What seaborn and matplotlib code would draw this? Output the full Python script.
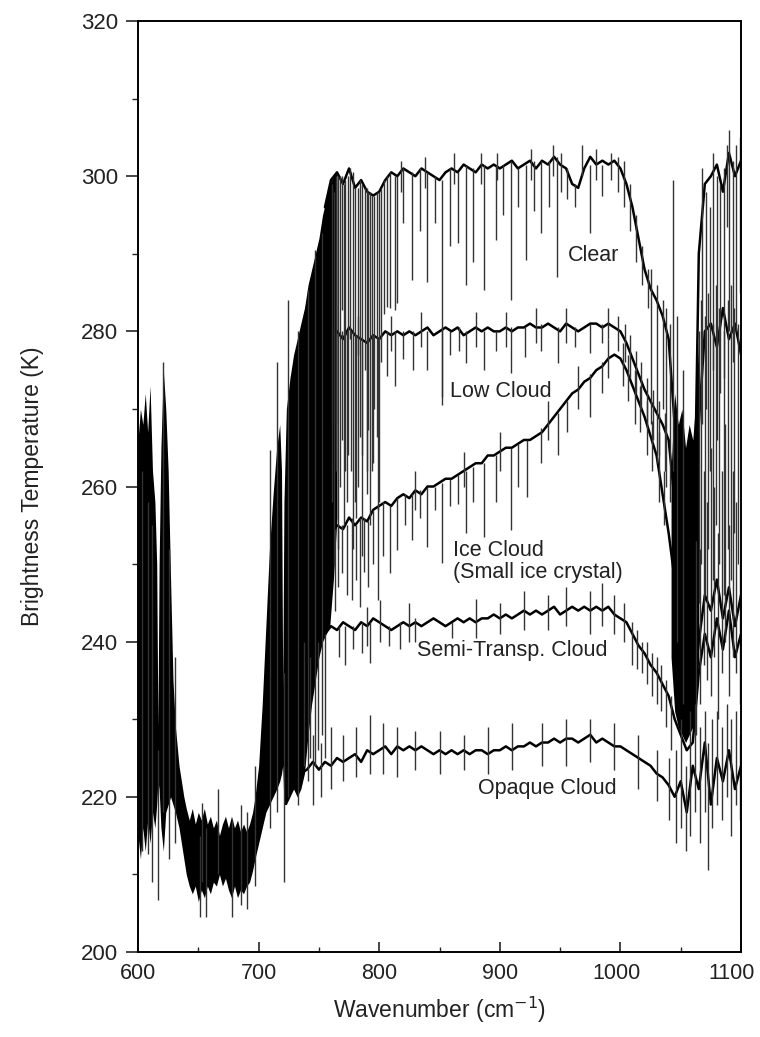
import matplotlib
matplotlib.use("Agg")
import matplotlib.pyplot as plt
from matplotlib.ticker import MultipleLocator
from matplotlib.transforms import ScaledTranslation
import seaborn as sns
import numpy as np
import pandas as pd

# wavenumber grid for the read-off baselines (cm-1)
wn = np.arange(755, 1101, 5)

clear = [296, 299.5, 300.5, 299, 301, 298.5, 299.5, 298, 297.5, 298,
         299.5, 300.5, 300, 301, 300.5, 300, 301, 300.5, 300, 299.5,
         300.5, 301, 300.5, 301.5, 301, 300.5, 301.5, 301, 301.5, 301,
         301.5, 302, 301, 301.5, 302, 301, 302, 301.5, 302.5, 301.5,
         301, 299, 298.5, 301, 302.5, 301.5, 302, 301.5, 302, 301,
         299, 296, 292, 288, 285.5, 284, 282, 279, 268, 255,
         246, 242, 290, 299, 300, 301.5, 298, 303, 300, 302]
low_cloud = [278, 279.5, 280, 279, 280.5, 279.5, 279, 278.5, 279.5, 279,
             280, 279.5, 280, 279.5, 280, 279.5, 280, 280.5, 279.5, 280,
             280.5, 280, 280.5, 279.5, 280, 280.5, 280, 280.5, 280, 280,
             280.5, 280, 280.5, 280.5, 281, 280.5, 280.5, 281, 280.5, 280,
             281, 280.5, 280, 280.5, 281, 281, 280.5, 281, 280.5, 280,
             278.5, 276.5, 274.5, 272.5, 271, 269.5, 268, 266, 258, 250,
             242, 240, 268, 280, 281, 278, 283, 279, 281, 277]
ice_cloud = [250, 254, 255, 254.5, 256, 255, 256, 255.5, 257, 257.5,
             258, 257.5, 258.5, 259, 258.5, 259.5, 259, 260, 260, 260.5,
             261, 261, 261.5, 262, 262.5, 263, 263, 264, 264, 264.5,
             265, 265, 265.5, 266, 266, 266.5, 267, 268, 269, 270,
             271, 272, 272.5, 273.5, 274, 275, 275.5, 276.5, 277, 276.5,
             275, 273, 271, 269, 266.5, 264, 259, 254, 248, 240,
             234, 233, 240, 246, 244, 248, 243, 247, 242, 246]
semi_transp = [241, 242, 241.5, 242.5, 242, 241.5, 242.5, 242, 243, 242.5,
               242, 241.5, 242, 242.5, 242, 242.5, 242, 242.5, 243, 242.5,
               242, 242.5, 243, 242.5, 243, 242.5, 243, 243, 243.5, 243,
               243.5, 243, 243.5, 244, 243.5, 244, 243.5, 244, 244.5, 243.5,
               244, 244.5, 244, 244.5, 244, 244.5, 244, 244.5, 243.5, 243,
               242.5, 241, 239.5, 238.5, 237, 236, 234.5, 233, 230, 228,
               226, 227, 236, 241, 238, 243, 239, 244, 238, 241]
opaque_wn = [735, 740, 745, 750]
opaque_head = [223, 223.5, 224.5, 223.5]
opaque = [224.5, 224, 225, 224.5, 225, 225.5, 224.5, 226, 225.5, 226,
          226.5, 225.5, 226.5, 226, 226.5, 226, 226.5, 226, 225.5, 226,
          225.5, 226, 225.5, 226, 225.5, 226, 226, 225.5, 226, 226,
          226.5, 226, 226.5, 226.5, 227, 226.5, 227, 227, 227.5, 227,
          227.5, 227.5, 227, 227.5, 228, 227, 227.5, 227, 226.5, 226.5,
          226, 225.5, 225, 224.5, 224, 223, 222.5, 221.5, 220, 222,
          218, 224, 221, 227, 219, 225, 222, 226, 221, 224]

# CO2 band region: envelope of the overlapping spectra
band_wn = [600, 602, 604, 606, 608, 610, 612, 614, 615.5, 616.5, 617.5, 619, 621, 623, 625,
           627, 629, 631, 634, 636, 638, 640, 642.5, 645, 647.5, 650, 652.5, 655, 657.5,
           660, 662.5, 665, 667.5, 670, 672.5, 675, 677.5, 680, 682.5, 685, 687.5, 690,
           692.5, 695, 697, 700, 703, 706, 709, 712, 715, 717.5, 719, 720, 721,
           723, 726, 729, 732, 735, 738, 741, 744, 747, 750, 753, 756, 759, 762, 765]
band_lo = [215, 212, 216, 213, 217, 214, 218, 216, 219, 222, 221, 216, 213, 218, 219,
           220, 219, 218, 216, 214, 212, 210, 208.5, 207.5, 208.5, 206.5, 208, 207, 208.5,
           207.5, 209, 208.5, 210, 208.5, 209.5, 208, 207, 208.5, 207, 208, 207.5, 208.5,
           209, 210.5, 212, 214, 216, 218, 219, 220, 221, 222, 223, 224, 219,
           219, 220, 221, 220, 221, 223, 228, 232, 235, 238, 240, 241, 242, 248, 256]
band_hi = [266, 270, 268, 272, 267, 273, 262, 258, 250, 229, 250, 265, 275, 270, 262,
           248, 235, 229, 224, 222, 220, 218.5, 217, 218.5, 216.5, 218, 217, 218.5, 216.5,
           217.5, 216, 217, 215, 216.5, 217.5, 216, 217.5, 216, 217, 215.5, 216.5, 215.5,
           216.5, 218, 220, 224, 232, 242, 252, 259, 265, 268, 262, 234, 258,
           270, 274, 277, 279, 281, 283, 286, 288, 290, 292, 295, 297, 299, 300, 300.5]

# O3 band trough
o3_wn = [1042, 1045, 1048, 1051, 1054, 1057, 1060, 1063, 1065]
o3_lo = [238, 231, 229, 228, 227, 228, 229, 232, 238]
o3_hi = [262, 272, 268, 270, 265, 268, 266, 272, 280]

# absorption lines / noise spikes: (wavenumber, low, high)
clear_lines = [(764, 268, 300), (769, 282.7, 300), (772, 262, 299.5), (776, 279, 301), (780, 258, 298.5),
               (784, 266.4, 299.5), (788, 275, 298.5), (791, 267.3, 298), (794, 262, 297.5), (798, 266.4, 298),
               (803.6, 282.3, 299.5), (806.5, 283.2, 300), (809, 283, 300.5), (813, 282.8, 300),
               (815, 283.6, 300), (820, 294, 301), (827, 286.6, 300.5), (834, 293, 301), (840, 286.4, 300.5),
               (846, 294, 300), (852, 271.5, 299.5), (859, 291, 301), (865, 291.4, 300.5), (871.6, 286, 301.5),
               (878, 289, 301), (886.5, 285.3, 301.5), (896.5, 291.8, 301.5), (903, 295, 301.5), (909, 284, 302),
               (915, 296, 301), (921.4, 289.2, 301.5), (928, 295.5, 302), (934, 292.7, 302), (941, 296, 302),
               (947.7, 287, 302.5), (956, 297, 301), (962, 296, 299), (975, 292.7, 301.5), (985, 297.5, 301.5),
               (818, 298, 302), (838, 298.5, 302.5), (862, 299, 303), (884, 299, 303), (898, 299.5, 303),
               (926, 299.5, 303.5), (944, 300, 304), (951, 298, 303), (968, 300, 304), (980, 299.5, 303.5),
               (992, 299.5, 303), (998, 298, 302.5), (1025, 268, 288), (1030, 263, 286), (1035, 270, 284),
               (1038, 260, 283), (1041, 258, 281), (1003, 296, 302), (1008, 293, 299), (1013, 289, 295),
               (1018, 286, 291), (1023, 283, 288),
               (761, 258, 299), (762.5, 250, 298), (766, 252, 300), (767.5, 260, 300), (770.5, 255, 299),
               (774.5, 264, 300), (778.5, 252, 300.5), (782.5, 260, 298.5), (786, 251, 299), (789.5, 262, 298.5),
               (792.5, 255, 298), (796, 270, 297.5), (799.5, 258, 298), (801.5, 276, 298.5)]
low_lines = [(764, 262, 280), (769, 266, 280), (773, 258, 280), (777, 262, 280), (781, 256, 279.5),
             (786, 264, 279), (790, 259, 279), (795, 263, 279.5), (799, 257, 279), (806.5, 274.2, 280),
             (813, 272.9, 280), (820, 276.5, 280), (828, 275, 280), (840, 275, 280), (852, 270.5, 280.5),
             (859, 277, 280), (866, 277.5, 280.5), (872, 275.9, 280), (886.5, 275, 280), (896.5, 277.5, 280),
             (909, 274.6, 280.5), (921, 276.7, 280.5), (934, 277.5, 281), (948, 275.9, 280.5), (962, 278, 280.5),
             (975, 277.2, 281), (985, 278.5, 281), (782, 277, 282), (810, 277.5, 282), (835, 278, 282.5),
             (880, 278, 282.5), (905, 278, 282.5), (930, 278.5, 283), (955, 278.5, 283), (990, 279, 283),
             (998, 277.5, 282), (1004, 276, 281), (1008, 274, 279.5), (1013, 272, 277.5), (1017, 270, 276),
             (1022, 268, 274), (1027, 266, 272.5), (1032, 264, 271), (1037, 262, 269.5)]
ice_lines = [(763, 244, 254.5), (766, 247, 255), (769, 248.8, 255), (773, 246, 255), (777.5, 245.4, 256),
             (781, 248, 255), (784, 244.5, 256), (787, 249, 256), (791, 247.1, 255.5), (795, 250, 257),
             (799, 245.4, 257.5), (803, 251, 258), (809, 248.8, 257.5), (815, 251.8, 258.5), (821, 255, 259),
             (827, 253.1, 259), (834, 256, 259.5), (840, 252.2, 260), (846, 257, 260), (852, 250.1, 260.5),
             (859, 257.5, 261), (865, 257.8, 261.5), (871.6, 254, 262), (878, 258, 262.5), (886.5, 253.5, 263),
             (896.5, 258, 264), (909, 254.4, 265), (915, 260, 265.5), (922.8, 258.7, 266), (934, 263, 267.5),
             (948, 264, 269.5), (956, 267, 271), (975, 269, 274.5), (985, 272, 276), (830, 257, 262),
             (870, 260, 264.5), (900, 262, 267), (940, 266, 271), (965, 270, 275.5), (990, 274, 279),
             (1002, 273, 278.5), (1012, 268, 275), (1022, 264, 271), (1032, 258, 267),
             (1006, 271, 277), (1016, 267, 273), (1026, 262, 268.5), (1036, 255, 262)]
semi_lines = [(767, 238, 242), (772, 237, 242), (778, 239, 242), (786, 238.5, 242.5), (792.7, 237.2, 242.5),
              (801, 240, 245.4), (808, 239.5, 242), (817.6, 239, 242.5), (830, 240, 243), (860, 240.5, 242.5),
              (790, 239.5, 244.5), (825, 240, 245), (880, 240.5, 245.5), (900, 241, 245), (920, 241.5, 246.5),
              (940, 241.5, 246), (955, 242, 247), (975, 241, 246.5), (985, 242, 247.5), (995, 241, 246),
              (1010, 237, 242.5), (1018, 236, 240), (1026, 233, 238.5), (1034, 231, 237),
              (1003, 240, 245), (1014, 236.5, 241.5), (1022, 234.5, 240), (1030, 232, 238),
              (1038, 229, 235), (1042, 226, 233)]
opaque_lines = [(745, 219, 228), (752, 220, 227), (760, 221, 229), (770, 222, 228), (781, 222.5, 229),
                (792, 223, 230.5), (803, 223, 229.5), (815, 222.5, 229), (830, 223.5, 228.5), (850, 223, 228.5),
                (870, 223.5, 228), (890, 223, 229), (910, 223.5, 229.5), (935, 224, 229.5), (955, 224, 230),
                (975, 224.5, 230), (995, 223.5, 229.5), (1015, 221, 228), (1030, 219.5, 226), (1040, 217, 225),
                (738, 224, 240), (743, 225, 238), (749, 226, 240), (755, 225, 241)]
band_lines = [(603, 213, 262), (608, 212.6, 258), (612, 209, 255), (616.6, 206.7, 226), (620.5, 218, 276),
              (626, 212, 252), (631, 214, 238), (651, 204.5, 215), (656, 204.5, 216), (653, 209, 219.2),
              (666, 210, 221), (678, 204.5, 217), (685, 206, 219), (690, 205.5, 218), (697, 208.5, 224),
              (721, 209, 236), (709.5, 216, 264.7), (715, 218, 276), (724, 220, 284), (733, 219, 280),
              (741, 222, 285.3), (747, 224, 290.5), (752.5, 228, 292.7)]
right_lines = [(1044, 262, 299.5), (1047, 240, 282), (1052, 232, 275), (1068, 268, 301), (1071, 270, 298),
               (1074, 262, 296), (1077, 275, 303), (1080, 266, 300), (1083, 272, 299), (1086, 274, 301),
               (1088, 293.5, 304), (1090, 280, 306), (1093, 276, 302), (1096, 280, 304), (1099, 285, 305),
               (1063, 228, 253), (1066, 232, 252), (1069, 237, 262), (1072, 235, 258), (1075, 233, 265),
               (1078, 238, 260), (1081, 230, 254), (1084, 236, 262), (1087, 240, 268), (1090, 233, 255),
               (1093, 238, 262), (1096, 236, 258), (1099, 232, 250), (1046, 214, 226), (1050, 216, 230),
               (1054, 213, 224), (1058, 215, 231), (1062, 218, 232), (1066, 214, 229), (1070, 218, 231),
               (1072.6, 210.6, 227), (1076, 216, 230), (1080, 219, 231), (1084, 217, 229), (1088, 220, 232),
               (1092, 215, 230), (1096, 219, 231), (1099, 217, 228),
               (1065, 245, 280), (1067, 250, 284), (1070.5, 246, 282), (1073, 252, 285), (1076.5, 248, 281),
               (1079, 255, 286), (1082, 250, 283), (1085.5, 246, 280), (1089, 252, 284), (1091.5, 248, 286),
               (1094.5, 254, 283), (1097.5, 250, 281)]

labels = [("Clear", 978, 289.8, "center"),
          ("Low Cloud", 900.7, 272.2, "center"),
          ("Ice Cloud\n(Small ice crystal)", 861.6, 250.3, "left"),
          ("Semi-Transp. Cloud", 910.4, 238.9, "center"),
          ("Opaque Cloud", 939.4, 221.1, "center")]

sns.set_style("ticks")
plt.rcParams['font.family'] = ['Liberation Sans', 'DejaVu Sans']

fig = plt.figure(figsize=(7.6, 10.37), dpi=100)
ax = fig.add_axes([0.1816, 0.082, 0.7934, 0.8977])

ax.fill_between(band_wn, band_lo, band_hi, color='black', lw=0)
ax.fill_between(o3_wn, o3_lo, o3_hi, color='black', lw=0)

series = {"clear": (list(wn), clear), "low": (list(wn), low_cloud), "ice": (list(wn), ice_cloud),
          "semi": (list(wn), semi_transp), "opaque": (opaque_wn + list(wn), opaque_head + opaque)}
for name, (x, y) in series.items():
    df = pd.DataFrame({"wn": x, "bt": y})
    sns.lineplot(data=df, x="wn", y="bt", color="black", lw=1.8, estimator=None, ax=ax)

for lines in [clear_lines, low_lines, ice_lines, semi_lines, opaque_lines, band_lines, right_lines]:
    s = np.array(lines)
    ax.vlines(s[:, 0], s[:, 1], s[:, 2], colors='#333333', lw=1.0)

for txt, x, y, ha in labels:
    ax.text(x, y, txt, ha=ha, va='center', fontsize=15.5, color='#222222', linespacing=1.05)

ax.set_xlim(600, 1100)
ax.set_ylim(200, 320)
ax.xaxis.set_major_locator(MultipleLocator(100))
ax.xaxis.set_minor_locator(MultipleLocator(50))
ax.yaxis.set_major_locator(MultipleLocator(20))
ax.yaxis.set_minor_locator(MultipleLocator(10))
ax.tick_params(axis='x', which='major', direction='in', length=7, width=1.2, pad=8,
               labelsize=15.5, labelcolor='#222222')
ax.tick_params(axis='x', which='minor', direction='in', length=3.5, width=1.0)
ax.tick_params(axis='y', which='major', direction='out', length=8.5, width=1.2, pad=6,
               labelsize=16, labelcolor='#222222')
ax.tick_params(axis='y', which='minor', direction='out', length=4.3, width=1.0)
for sp in ax.spines.values():
    sp.set_linewidth(1.4)
    sp.set_color('black')

# the four-digit labels sit a little left of their ticks in the original
for lab in ax.get_xticklabels():
    if lab.get_text() in ("1000", "1100"):
        shift = -4 if lab.get_text() == "1000" else -9
        lab.set_transform(lab.get_transform() + ScaledTranslation(shift / 100, 0, fig.dpi_scale_trans))

ax.set_xlabel("Wavenumber (cm$^{-1}$)", fontsize=16.5, color='#222222')
ax.set_ylabel("Brightness Temperature (K)", fontsize=16.5, color='#222222')
ax.xaxis.set_label_coords(0.5, -0.046)
ax.yaxis.set_label_coords(-0.156, 0.5)

fig.savefig("out.png", dpi=100)
